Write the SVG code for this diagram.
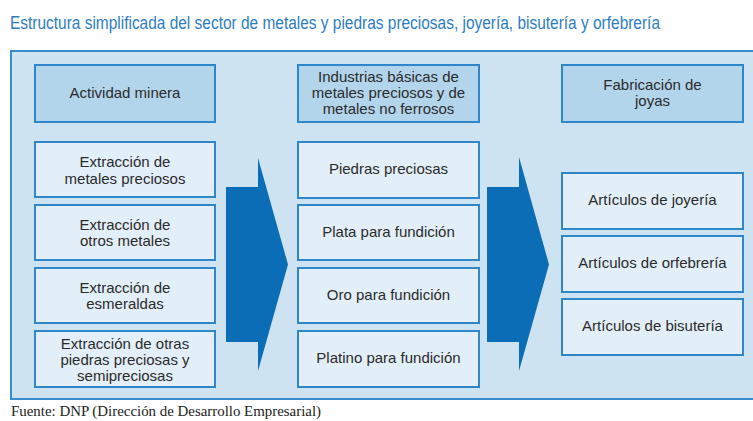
<svg xmlns="http://www.w3.org/2000/svg" width="753" height="421" viewBox="0 0 753 421">
<style>
.title{font-family:"Liberation Sans Narrow","Liberation Sans",Arial,sans-serif;font-size:17.5px;fill:#2d7dc0}
.foot{font-family:"Liberation Serif","Times New Roman",serif;font-size:14px;fill:#222}
.hdr{fill:#b2d5ec;stroke:#2f86c8;stroke-width:2}
.box{fill:#e2eff9;stroke:#2f86c8;stroke-width:2}
.t{font-family:"Liberation Sans",Arial,sans-serif;font-size:15px;fill:#2b2b2b;text-anchor:middle}
.arrow{fill:#0a6db5}
</style>
<rect width="753" height="421" fill="#ffffff"/>
<text class="title" x="10" y="29" textLength="650" lengthAdjust="spacingAndGlyphs">Estructura simplificada del sector de metales y piedras preciosas, joyería, bisutería y orfebrería</text>
<rect id="panel" x="11" y="51" width="760" height="348" fill="#cde3f1" stroke="#3a8dcc" stroke-width="2"/>
<g id="connectors">
<polygon class="arrow" points="226,187 258,187 258,158 288,264.5 258,371 258,342 226,342"/>
<polygon class="arrow" points="487,187 519,187 519,157 549,264.5 519,371 519,342 487,342"/>
</g>
<g id="h1"><rect class="hdr" x="35" y="65" width="180" height="57"/><text class="t" x="125" y="97.5">Actividad minera</text></g>
<g id="l1"><rect class="box" x="35" y="142" width="180" height="55"/><text class="t" x="125" y="167">Extracción de</text><text class="t" x="125" y="183.5">metales preciosos</text></g>
<g id="l2"><rect class="box" x="35" y="205" width="180" height="55"/><text class="t" x="125" y="229.5">Extracción de</text><text class="t" x="125" y="246">otros metales</text></g>
<g id="l3"><rect class="box" x="35" y="268" width="180" height="55"/><text class="t" x="125" y="292.5">Extracción de</text><text class="t" x="125" y="309">esmeraldas</text></g>
<g id="l4"><rect class="box" x="35" y="331" width="180" height="56"/><text class="t" x="125" y="348.5">Extracción de otras</text><text class="t" x="125" y="364.5">piedras preciosas y</text><text class="t" x="125" y="380.5">semipreciosas</text></g>
<g id="h2"><rect class="hdr" x="298" y="65" width="181" height="57"/><text class="t" x="388.5" y="81.5">Industrias básicas de</text><text class="t" x="388.5" y="97.5">metales preciosos y de</text><text class="t" x="388.5" y="113.5">metales no ferrosos</text></g>
<g id="m1"><rect class="box" x="298" y="142" width="181" height="56"/><text class="t" x="388.5" y="173.5">Piedras preciosas</text></g>
<g id="m2"><rect class="box" x="298" y="205" width="181" height="55"/><text class="t" x="388.5" y="237">Plata para fundición</text></g>
<g id="m3"><rect class="box" x="298" y="268" width="181" height="55"/><text class="t" x="388.5" y="300">Oro para fundición</text></g>
<g id="m4"><rect class="box" x="298" y="331" width="181" height="56"/><text class="t" x="388.5" y="363">Platino para fundición</text></g>
<g id="h3"><rect class="hdr" x="562" y="65" width="181" height="57"/><text class="t" x="652.5" y="90">Fabricación de</text><text class="t" x="652.5" y="105.5">joyas</text></g>
<g id="r1"><rect class="box" x="562" y="173" width="181" height="56"/><text class="t" x="652.5" y="205">Artículos de joyería</text></g>
<g id="r2"><rect class="box" x="562" y="236" width="181" height="56"/><text class="t" x="652.5" y="268">Artículos de orfebrería</text></g>
<g id="r3"><rect class="box" x="562" y="299" width="181" height="56"/><text class="t" x="652.5" y="331">Artículos de bisutería</text></g>
<text class="foot" x="11" y="416" textLength="310" lengthAdjust="spacingAndGlyphs">Fuente: DNP (Dirección de Desarrollo Empresarial)</text>
</svg>
